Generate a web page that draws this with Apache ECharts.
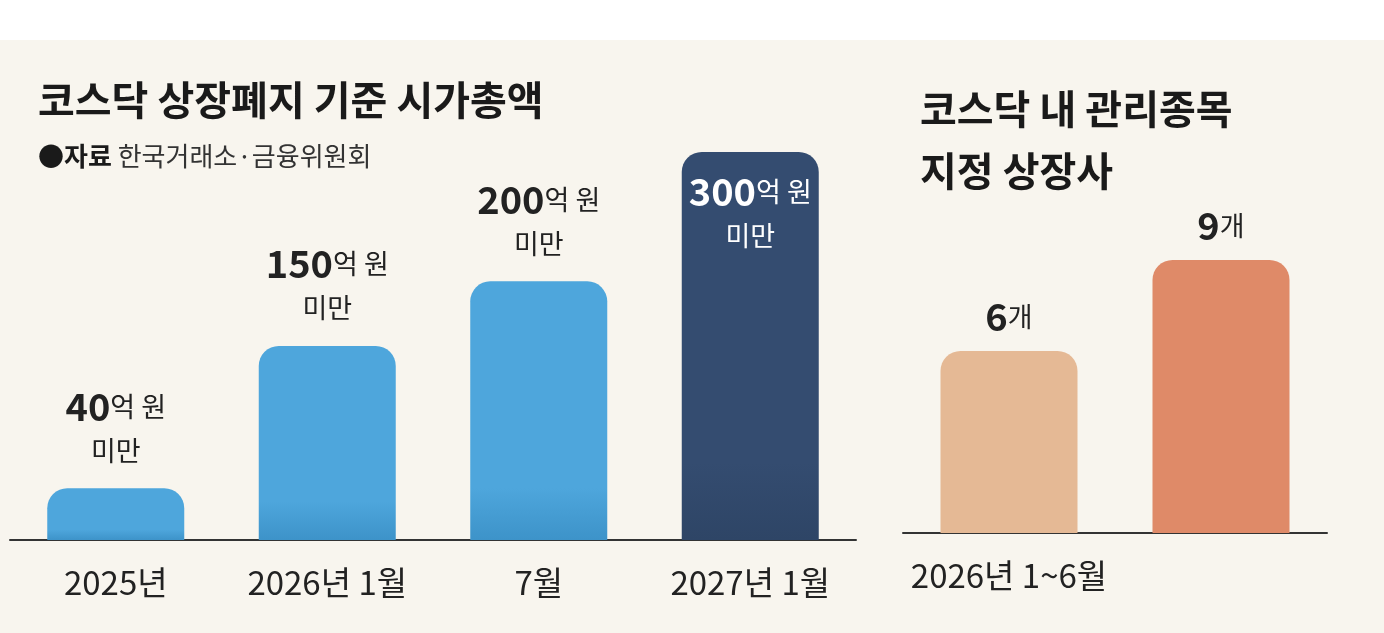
<!DOCTYPE html>
<html><head><meta charset="utf-8">
<script src="https://cdn.jsdelivr.net/npm/echarts@6/dist/echarts.min.js"></script>
<style>html,body{margin:0;padding:0;background:#f8f5ee}#main{width:1384px;height:633px}</style>
</head><body><div id="main"></div>
<script>
var leftCats = ['2025년', '2026년 1월', '7월', '2027년 1월'];
var leftValues = [40, 150, 200, 300];
var rightCats = ['2026년 1~6월', '7월'];
var rightNotes = ['', '(21일까지)'];
var rightValues = [6, 9];

var FONT = '"Noto Sans CJK KR", sans-serif';
var chart = echarts.init(document.getElementById('main'));

function grad(top, bottom) {
    return new echarts.graphic.LinearGradient(0, 0, 0, 1, [
        {offset: 0, color: top}, {offset: 0.8, color: top}, {offset: 1, color: bottom}
    ]);
}
var richBig = {
    n: {fontSize: 38, fontWeight: 'bold', color: '#222', fontFamily: FONT, lineHeight: 44},
    u: {fontSize: 27, color: '#222', fontFamily: FONT, lineHeight: 44},
    nw: {fontSize: 38, fontWeight: 'bold', color: '#fff', fontFamily: FONT, lineHeight: 44},
    uw: {fontSize: 27, color: '#fff', fontFamily: FONT, lineHeight: 44}
};

var leftData = leftValues.map(function (v, i) {
    var last = i === leftValues.length - 1;
    return {
        value: v,
        itemStyle: {color: last ? grad('#344c70', '#2e4566') : grad('#4ea6dc', '#3d93c9')},
        label: last ? {
            show: true, position: 'insideTop', distance: 18,
            formatter: '{nw|' + v + '}{uw|억 원}\n{uw|미만}', rich: richBig
        } : {
            show: true, position: 'top', distance: 16,
            formatter: '{n|' + v + '}{u|억 원}\n{u|미만}', rich: richBig
        }
    };
});
var rightColors = ['#e5b995', '#df8a68'];
var rightData = rightValues.map(function (v, i) {
    return {
        value: v,
        itemStyle: {color: grad(rightColors[i], rightColors[i])},
        label: {show: true, position: 'top', distance: 12,
            formatter: '{n|' + v + '}{u|개}', rich: richBig}
    };
});

var axisLabelStyle = {fontSize: 33, color: '#222', fontFamily: FONT, margin: 26};

chart.setOption({
    backgroundColor: '#f8f5ee',
    graphic: [
        {type: 'rect', shape: {x: 0, y: 0, width: 1384, height: 40}, style: {fill: '#ffffff'}},
        {type: 'text', left: 38, top: 80, style: {text: '코스닥 상장폐지 기준 시가총액', font: 'bold 40px ' + FONT, fill: '#1a1a1a'}},
        {type: 'text', left: 38, top: 143, style: {
            text: '{b|●자료} 한국거래소·금융위원회', font: '26px ' + FONT, fill: '#333',
            rich: {b: {font: 'bold 26px ' + FONT, fill: '#1a1a1a'}}}},
        {type: 'text', left: 920, top: 78, style: {text: '코스닥 내 관리종목\n지정 상장사', font: 'bold 40px ' + FONT, fill: '#1a1a1a', lineHeight: 62}}
    ],
    grid: [
        {left: 10, width: 846, top: 152, bottom: 93},
        {left: 903, width: 424, top: 260, bottom: 100}
    ],
    xAxis: [
        {type: 'category', gridIndex: 0, data: leftCats, axisTick: {show: false},
            axisLine: {lineStyle: {color: '#333', width: 2}}, axisLabel: axisLabelStyle},
        {type: 'category', gridIndex: 1, data: rightCats, axisTick: {show: false},
            axisLine: {lineStyle: {color: '#333', width: 2}},
            axisLabel: {fontSize: 33, color: '#222', fontFamily: FONT, margin: 26,
                formatter: function (v, i) { return rightNotes[i] ? v + '{s|' + rightNotes[i] + '}' : v; },
                rich: {s: {fontSize: 22, color: '#222', fontFamily: FONT, padding: [6, 0, 0, 0]}}}}
    ],
    yAxis: [
        {type: 'value', gridIndex: 0, min: 0, max: 300, show: false},
        {type: 'value', gridIndex: 1, min: 0, max: 9, show: false}
    ],
    series: [
        {type: 'bar', xAxisIndex: 0, yAxisIndex: 0, barWidth: 137, data: leftData,
            itemStyle: {borderRadius: [20, 20, 0, 0]}},
        {type: 'bar', xAxisIndex: 1, yAxisIndex: 1, barWidth: 137, data: rightData,
            itemStyle: {borderRadius: [20, 20, 0, 0]}}
    ]
});
</script></body></html>
